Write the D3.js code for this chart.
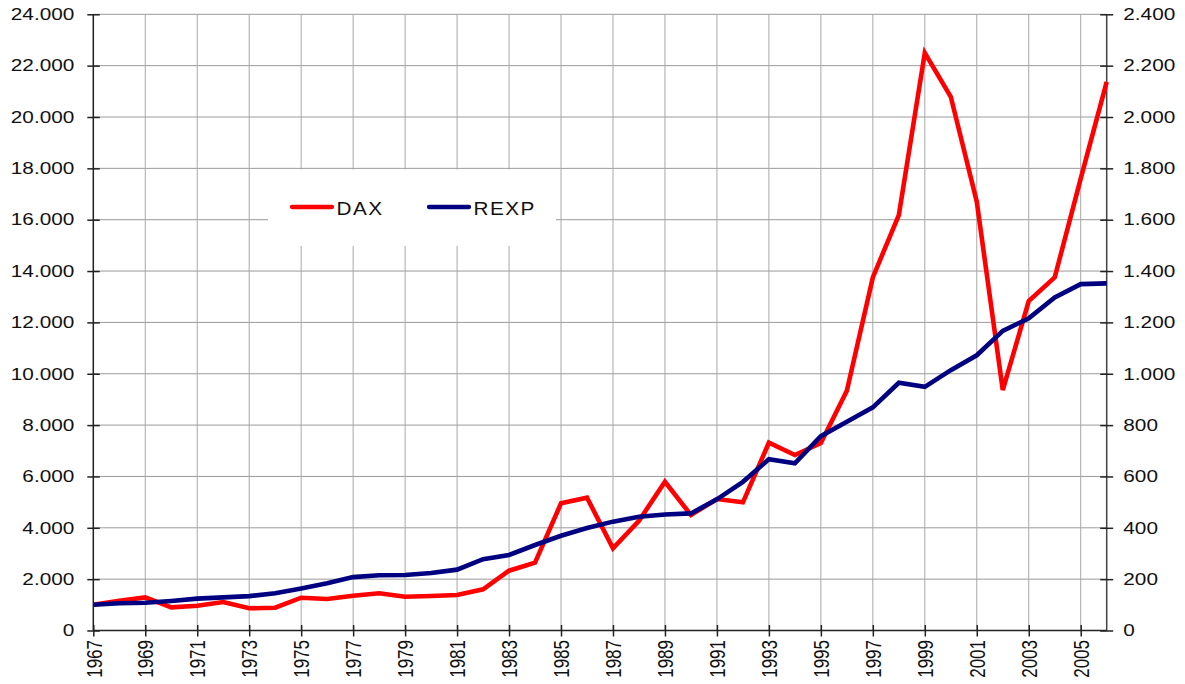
<!DOCTYPE html>
<html>
<head>
<meta charset="utf-8">
<script src="https://d3js.org/d3.v7.min.js"></script>
<style>
  body { margin: 0; background: #fff; }
  text { font-family: "Liberation Sans", Arial, sans-serif; fill: #111; }
</style>
</head>
<body>
<script>
//years on the x axis
const years = [1967, 1968, 1969, 1970, 1971, 1972, 1973, 1974, 1975, 1976,
  1977, 1978, 1979, 1980, 1981, 1982, 1983, 1984, 1985, 1986,
  1987, 1988, 1989, 1990, 1991, 1992, 1993, 1994, 1995, 1996,
  1997, 1998, 1999, 2000, 2001, 2002, 2003, 2004, 2005, 2006]

//DAX index, left axis
const dax = [1000, 1160, 1290, 903, 966, 1110, 864, 888, 1277, 1227,
  1355, 1448, 1316, 1343, 1382, 1604, 2330, 2640, 4953, 5172,
  3200, 4276, 5795, 4497, 5121, 4992, 7314, 6835, 7300, 9338,
  13754, 16180, 22500, 20787, 16698, 9365, 12831, 13754, 17600, 21371]

//REXP index, right axis
const rexp = [100, 106, 108, 115, 124, 129, 134, 145, 164, 184,
  208, 215, 216, 224, 237, 278, 294, 333, 369, 399,
  424, 443, 452, 456, 511, 579, 667, 651, 757, 813,
  869, 965, 949, 1014, 1072, 1167, 1216, 1297, 1349, 1352]

//tick values
const leftTicks = [0, 2000, 4000, 6000, 8000, 10000, 12000, 14000, 16000, 18000, 20000, 22000, 24000]
const rightTicks = [0, 200, 400, 600, 800, 1000, 1200, 1400, 1600, 1800, 2000, 2200, 2400]
const yearTicks = years.filter(y => y % 2 === 1)

const seriesNames = ['DAX', 'REXP']
const seriesColors = ['#ff0000', '#000080']

render()

function render() {
  const width = 1185
  const height = 684

  //plot box in pixels
  const left = 93.3, right = 1106.7, top = 14.3, bottom = 630.5
  //the picture is a bit wider than tall, so text gets stretched
  const stretch = 1.26

  //german number format: 24.000
  const de = d3.formatLocale({ decimal: ',', thousands: '.', grouping: [3], currency: ['', '€'] })
  const fmt = de.format(',d')

  const svg = d3.select('body')
    .append('svg')
    .attr('width', width)
    .attr('height', height)

  const xScale = d3.scaleLinear()
    .domain([1967, 2006])
    .range([left, right])

  const yLeft = d3.scaleLinear()
    .domain([0, 24000])
    .range([bottom, top])

  const yRight = d3.scaleLinear()
    .domain([0, 2400])
    .range([bottom, top])

  //grid lines
  svg.append('g')
    .selectAll('line.h')
    .data(leftTicks.slice(1))
    .enter()
    .append('line')
      .attr('x1', left)
      .attr('x2', right)
      .attr('y1', d => yLeft(d))
      .attr('y2', d => yLeft(d))
      .attr('stroke', '#9a9a9a')
      .attr('stroke-width', 1)

  svg.append('g')
    .selectAll('line.v')
    .data(yearTicks.slice(1))
    .enter()
    .append('line')
      .attr('x1', d => xScale(d))
      .attr('x2', d => xScale(d))
      .attr('y1', top)
      .attr('y2', bottom)
      .attr('stroke', '#a8a8a8')
      .attr('stroke-width', 1)

  //legend box sits on top of the grid
  const legend = svg.append('g')
  legend.append('rect')
    .attr('x', 268)
    .attr('y', 169.5)
    .attr('width', 288)
    .attr('height', 76.5)
    .attr('fill', '#fff')

  const legendX = [292, 429]
  seriesNames.forEach((name, i) => {
    legend.append('line')
      .attr('x1', legendX[i])
      .attr('x2', legendX[i] + 40)
      .attr('y1', 207)
      .attr('y2', 207)
      .attr('stroke', seriesColors[i])
      .attr('stroke-width', 4.3)
      .attr('stroke-linecap', 'round')
    legend.append('text')
      .text(name)
      .attr('transform', `translate(${legendX[i] + 44.5},215) scale(1.12,1)`)
      .attr('font-size', 18.5)
      .attr('letter-spacing', 1.3)
  })

  //left axis
  const yAxisLeft = d3.axisLeft(yLeft)
    .tickValues(leftTicks)
    .tickFormat(fmt)
    .tickSize(6)
    .tickPadding(0)

  const gl = svg.append('g')
    .attr('transform', `translate(${left},0)`)
    .call(yAxisLeft)
  gl.select('.domain').attr('stroke', '#222').attr('stroke-width', 1.5).attr('d', `M0,${top}V${bottom}`)
  gl.selectAll('.tick line').attr('x1', 6.5).attr('x2', -6).attr('stroke', '#222').attr('stroke-width', 1.5)
  gl.selectAll('.tick text')
    .attr('x', -19 / stretch)
    .attr('transform', `scale(${stretch},1)`)
    .attr('font-size', 16.5)
    .attr('fill', '#111')

  //right axis
  const yAxisRight = d3.axisRight(yRight)
    .tickValues(rightTicks)
    .tickFormat(fmt)
    .tickSize(6)
    .tickPadding(0)

  const gr = svg.append('g')
    .attr('transform', `translate(${right},0)`)
    .call(yAxisRight)
  gr.select('.domain').attr('stroke', '#444').attr('stroke-width', 1.5).attr('d', `M0,${top}V${bottom}`)
  gr.selectAll('.tick line').attr('x1', -6.5).attr('x2', 6.5).attr('stroke', '#222').attr('stroke-width', 1.5)
  gr.selectAll('.tick text')
    .attr('x', 16.6 / stretch)
    .attr('transform', `scale(${stretch},1)`)
    .attr('font-size', 16.5)
    .attr('fill', '#111')

  //bottom axis with rotated years (odd years only)
  const xAxis = d3.axisBottom(xScale)
    .tickValues(yearTicks)
    .tickFormat(d3.format('d'))
    .tickSize(6)

  const gx = svg.append('g')
    .attr('transform', `translate(0,${bottom})`)
    .call(xAxis)
  gx.select('.domain').attr('stroke', '#222').attr('stroke-width', 1.5).attr('d', `M${left},0H${right}`)
  gx.selectAll('.tick line').attr('y1', -5.5).attr('y2', 6).attr('stroke', '#222').attr('stroke-width', 1.5)
  gx.selectAll('.tick text')
    .attr('text-anchor', 'end')
    .attr('x', -9.5)
    .attr('y', 0)
    .attr('dy', '0.36em')
    .attr('transform', `scale(${stretch},1) rotate(-90)`)
    .attr('font-size', 17)
    .attr('fill', '#111')

  //series lines
  const lineLeft = d3.line()
    .x((d, i) => xScale(years[i]))
    .y(d => yLeft(d))

  const lineRight = d3.line()
    .x((d, i) => xScale(years[i]))
    .y(d => yRight(d))

  svg.append('path')
    .datum(dax)
    .attr('d', lineLeft)
    .attr('fill', 'none')
    .attr('stroke', seriesColors[0])
    .attr('stroke-width', 4.6)
    .attr('stroke-linejoin', 'miter')

  svg.append('path')
    .datum(rexp)
    .attr('d', lineRight)
    .attr('fill', 'none')
    .attr('stroke', seriesColors[1])
    .attr('stroke-width', 4.6)
    .attr('stroke-linejoin', 'miter')
}
</script>
</body>
</html>
